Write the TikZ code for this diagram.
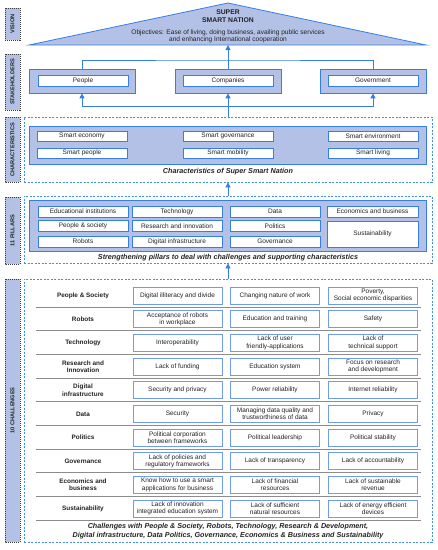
\documentclass[tikz,border=0pt]{standalone}
\usepackage{fontspec}
\setmainfont{Liberation Sans}
\usetikzlibrary{arrows.meta}
\definecolor{band}{RGB}{178,193,229}
\definecolor{lineblue}{RGB}{55,125,230}
\definecolor{boxblue}{RGB}{110,155,235}
\definecolor{dashblue}{RGB}{70,140,235}
\definecolor{lblgray}{RGB}{60,60,60}
\definecolor{sepgray}{RGB}{140,140,140}
\definecolor{txt}{RGB}{35,35,35}
\tikzset{
  every node/.style={text=txt, font=\fontsize{6.5}{7.2}\selectfont, inner sep=0pt},
  lbl/.style={draw=lblgray, fill=band, line width=1pt, dash pattern=on 1pt off 1pt, rotate=90, minimum height=15pt, font=\fontsize{5.6}{6.4}\selectfont\bfseries},
  dbox/.style={draw=dashblue, line width=0.8pt, dash pattern=on 2pt off 1.5pt, minimum width=408pt},
  bandbox/.style={draw=lineblue, fill=band, line width=0.7pt},
  itm/.style={draw=lineblue, fill=white, line width=0.6pt, minimum width=90pt, minimum height=10pt, align=center},
  chb/.style={draw=boxblue, fill=white, line width=0.8pt, minimum width=89pt, minimum height=17pt, align=center},
  rowlab/.style={font=\fontsize{6.4}{7.3}\selectfont\bfseries, align=center},
  captxt/.style={font=\fontsize{7.2}{9}\selectfont\bfseries\itshape, align=center},
  conn/.style={draw=lineblue, line width=0.8pt},
  arr/.style={conn, -{Triangle[width=5pt,length=5pt]}},
  sep/.style={draw=sepgray, line width=0.9pt}
}
\begin{document}
\begin{tikzpicture}[x=1pt,y=-1pt]
\useasboundingbox (0,0) rectangle (438,550);
% left labels
\node[lbl, minimum width=32pt] (lv) at (12.5,24) {VISION};
\node[lbl, minimum width=56pt] (ls) at (12.5,82) {STAKEHOLDERS};
\node[lbl, minimum width=65pt] (lc) at (12.5,149.5) {CHARACTERISTICS};
\node[lbl, minimum width=67pt] (lp) at (12.5,230.5) {11 PILLARS};
\node[lbl, minimum width=263pt] (lch) at (12.5,410.5) {10 CHALLENGES};
% vision triangle
\draw[draw=lineblue, fill=band, line width=0.8pt] (29,45) -- (228,3) -- (426,45) -- cycle;
\coordinate (visbase) at (228,45);
\node[font=\fontsize{6.8}{8}\selectfont\bfseries, align=center] (vtitle) at (228,16) {SUPER\\SMART NATION};
\node[align=center, font=\fontsize{6.6}{7.3}\selectfont] (vobj) at (228,36.5) {Objectives: Ease of living, doing business, availing public services\\and enhancing International cooperation};
% stakeholders
\node[bandbox, minimum width=106pt, minimum height=24pt] (people) at (82,81) {};
\node[bandbox, minimum width=106pt, minimum height=24pt] (comp) at (228,81) {};
\node[bandbox, minimum width=106pt, minimum height=24pt] (gov) at (373,81) {};
\node[itm, minimum height=11pt] (peoplein) at (83,80.5) {People};
\node[itm, minimum height=11pt] (compin) at (228,80.5) {Companies};
\node[itm, minimum height=11pt] (govin) at (373,80.5) {Government};
\coordinate (topbar) at (228,60);
\coordinate (botbar) at (228,106);
\draw[conn] (people.north) |- (topbar) -| (gov.north);
\draw[arr] (comp.north) -- (visbase);
% characteristics
\node[dbox, minimum height=65pt] (charbox) at (228,149.5) {};
\node[bandbox, minimum width=397pt, minimum height=38pt] (charband) at (227.5,145) {};
\node[itm] (c1) at (82,136) {Smart economy};
\node[itm] (c2) at (228,136) {Smart governance};
\node[itm] (c3) at (373,136) {Smart environment};
\node[itm] (c4) at (82,153) {Smart people};
\node[itm] (c5) at (228,153) {Smart mobility};
\node[itm] (c6) at (373,153) {Smart living};
\node[captxt] (ccap) at (228,172) {Characteristics of Super Smart Nation};
\draw[arr] (botbar) -| (people.south);
\draw[arr] (botbar) -| (gov.south);
\draw[arr] (charbox.north) -- (comp.south);
% pillars
\node[dbox, minimum height=67pt] (pilbox) at (228,229.5) {};
\node[bandbox, minimum width=397pt, minimum height=51pt] (pilband) at (227.5,225.5) {};
\node[itm, minimum height=11pt] (p1) at (83,211.5) {Educational institutions};
\node[itm, minimum height=11pt] (p2) at (177,211.5) {Technology};
\node[itm, minimum height=11pt] (p3) at (275,211.5) {Data};
\node[itm, minimum height=11pt, minimum width=91pt] (p4) at (372.5,211.5) {Economics and business};
\node[itm, minimum height=11pt] (p5) at (83,226) {People \& society};
\node[itm, minimum height=11pt] (p6) at (177,226) {Research and innovation};
\node[itm, minimum height=11pt] (p7) at (275,226) {Politics};
\node[itm, minimum height=26pt, minimum width=91pt] (p8) at (372.5,234) {Sustainability};
\node[itm, minimum height=11pt] (p9) at (83,241.5) {Robots};
\node[itm, minimum height=11pt] (p10) at (177,241.5) {Digital infrastructure};
\node[itm, minimum height=11pt] (p11) at (275,241.5) {Governance};
\node[captxt] (pcap) at (228,258) {Strengthening pillars to deal with challenges and supporting characteristics};
\draw[arr] (pilbox.north) -- (charbox.south);
% challenges
\node[dbox, minimum height=263pt] (chbox) at (228,410.5) {};
\draw[arr] (chbox.north) -- (pilbox.south);
\foreach \i/\lab/\a/\b/\c in {
 0/{People \& Society}/{Digital illiteracy and divide}/{Changing nature of work}/{Poverty,\\Social economic disparities},
 1/{Robots}/{Acceptance of robots\\in workplace}/{Education and training}/{Safety},
 2/{Technology}/{Interoperability}/{Lack of user\\friendly-applications}/{Lack of\\technical support},
 3/{Research and\\Innovation}/{Lack of funding}/{Education system}/{Focus on research\\and development},
 4/{Digital\\infrastructure}/{Security and privacy}/{Power reliability}/{Internet reliability},
 5/{Data}/{Security}/{Managing data quality and\\trustworthiness of data}/{Privacy},
 6/{Politics}/{Political corporation\\between frameworks}/{Political leadership}/{Political stability},
 7/{Governance}/{Lack of policies and\\regulatory frameworks}/{Lack of transparency}/{Lack of accountability},
 8/{Economics and\\business}/{Know how to use a smart\\applications for business}/{Lack of financial\\resources}/{Lack of sustainable\\revenue},
 9/{Sustainability}/{Lack of innovation\\integrated education system}/{Lack of sufficient\\natural resources}/{Lack of energy efficient\\devices}}
{
  \pgfmathsetmacro\yy{295.5+23.67*\i}
  \node[rowlab] (r\i) at (83,\yy) {\lab};
  \node[chb] (r\i a) at (177.5,\yy) {\a};
  \node[chb] (r\i b) at (275,\yy) {\b};
  \node[chb] (r\i c) at (373,\yy) {\c};
  \draw[sep] (36,\yy+11.5) -- (421,\yy+11.5);
}
\node[captxt] (chcap) at (228,531.5) {Challenges with People \& Society, Robots, Technology, Research \& Development,\\Digital infrastructure, Data Politics, Governance, Economics \& Business and Sustainability};
\end{tikzpicture}
\end{document}
